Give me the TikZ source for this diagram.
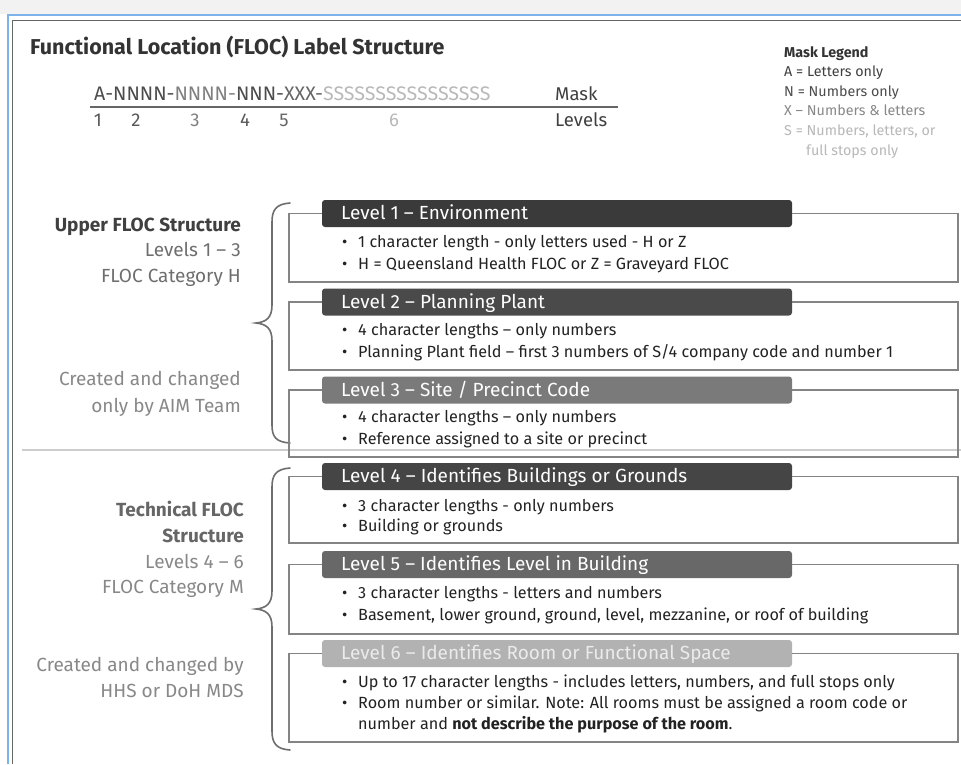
\documentclass[tikz,border=0pt]{standalone}
\usepackage{fontspec}
\setmainfont{Fira Sans}
\begin{document}
\definecolor{hdA}{HTML}{3A3A3A}
\definecolor{hdB}{HTML}{4A4A4A}
\definecolor{hdC}{HTML}{7A7A7A}
\definecolor{hdD}{HTML}{454545}
\definecolor{hdE}{HTML}{686868}
\definecolor{hdF}{HTML}{B2B2B2}
\definecolor{ink}{HTML}{222222}
\definecolor{mid}{HTML}{6E6E6E}
\definecolor{soft}{HTML}{888888}
\definecolor{pale}{HTML}{B8B8B8}
\definecolor{frameblue}{HTML}{7DB3EA}
\newcommand{\bul}{\makebox[16pt][l]{•}}
\tikzset{
  lbl/.style={inner sep=0pt, anchor=base west},
  rlbl/.style={inner sep=0pt, anchor=base east, font=\fontsize{19}{21}\selectfont},
  hdr/.style={rounded corners=3pt, minimum width=470pt, minimum height=27pt, inner sep=0pt},
  hdrtext/.style={inner sep=0pt, anchor=base west, text=white, font=\fontsize{19}{21}\selectfont},
  bullet/.style={inner sep=0pt, anchor=base west, text=ink, font=\fontsize{16.2}{18}\selectfont},
  boxline/.style={draw=mid!85, line width=1.3pt},
  bracestyle/.style={draw=mid, line width=1.6pt, line cap=round}
}
\begin{tikzpicture}[x=1pt,y=-1pt]
\useasboundingbox (0,0) rectangle (961,764);
% page chrome
\fill[white] (0,0) rectangle (961,764);
\fill[black!5] (0,0) rectangle (961,14);
\draw[frameblue, line width=1.5pt] (8,764) -- (8,15) -- (961,15);
\draw[black!60, line width=1.6pt] (12.5,764) -- (12.5,20.5) -- (961,20.5);

% title
\node[lbl, text=black!80, font=\bfseries\fontsize{21.5}{24}\selectfont] (title) at (30,54) {Functional Location (FLOC) Label Structure};

% mask
\node[lbl, font=\fontsize{19.6}{21}\selectfont] (mask) at (94,100)
  {\textcolor{black!70}{A-NNNN-}\textcolor{black!50}{NNNN-}\textcolor{black!70}{NNN-}\textcolor{black!60}{XXX-}\textcolor{pale}{SSSSSSSSSSSSSSSS}};
\coordinate (ruleL) at (90,107);
\coordinate (ruleR) at (618,107);
\draw[black!60, line width=1.2pt] (ruleL) -- (ruleR);
\node[lbl, text=black!75, font=\fontsize{18.5}{20}\selectfont] (masklbl) at (555,100) {Mask};
\node[lbl, text=black!75, font=\fontsize{18.5}{20}\selectfont] (levlbl) at (555,126) {Levels};
\begin{scope}[every node/.style={inner sep=0pt, anchor=base, font=\fontsize{18.5}{20}\selectfont}]
\node[text=black!65] (n1) at (98,126) {1};
\node[text=black!65] (n2) at (136,126) {2};
\node[text=black!50] (n3) at (195,126) {3};
\node[text=black!65] (n4) at (245,126) {4};
\node[text=black!60] (n5) at (284,126) {5};
\node[text=pale] (n6) at (394,126) {6};
\end{scope}

% mask legend
\begin{scope}[every node/.style={lbl, font=\fontsize{14.3}{16}\selectfont}]
\node[text=black!80, font=\bfseries\fontsize{14.3}{16}\selectfont] (lg0) at (784,57) {Mask Legend};
\node[text=black!75] (lg1) at (784,76) {A = Letters only};
\node[text=black!70] (lg2) at (784,96) {N = Numbers only};
\node[text=soft] (lg3) at (784,115) {X – Numbers \& letters};
\node[text=pale] (lg4) at (784,135) {S = Numbers, letters, or};
\node[text=pale] (lg5) at (806,155) {full stops only};
\end{scope}

% left-hand group labels
\node[rlbl, text=black!75, font=\bfseries\fontsize{19}{21}\selectfont] (u1) at (241,231) {Upper FLOC Structure};
\node[rlbl, text=mid] (u2) at (241,256) {Levels 1 – 3};
\node[rlbl, text=mid] (u3) at (241,282) {FLOC Category H};
\node[rlbl, text=soft] (u4) at (241,385) {Created and changed};
\node[rlbl, text=soft] (u5) at (241,412) {only by AIM Team};

\node[rlbl, text=black!60, font=\bfseries\fontsize{19}{21}\selectfont] (t1) at (244,516) {Technical FLOC};
\node[rlbl, text=black!60, font=\bfseries\fontsize{19}{21}\selectfont] (t2) at (244,542) {Structure};
\node[rlbl, text=soft] (t3) at (244,568) {Levels 4 – 6};
\node[rlbl, text=soft] (t4) at (244,593) {FLOC Category M};
\node[rlbl, text=soft] (t5) at (244,671) {Created and changed by};
\node[rlbl, text=soft] (t6) at (244,697) {HHS or DoH MDS};

% separator between the two groups
\draw[black!20, line width=1.5pt] (22,450) -- (961,450);

% braces
\draw[bracestyle] (290,203) .. controls (276,204) and (272,210) .. (272,222)
  -- (272,305) .. controls (272,318) and (266,322) .. (256,323)
  .. controls (266,324) and (272,328) .. (272,341)
  -- (272,425) .. controls (272,437) and (276,442) .. (290,443);
\draw[bracestyle] (290,468) .. controls (276,469) and (272,475) .. (272,487)
  -- (272,591) .. controls (272,604) and (266,608) .. (256,609)
  .. controls (266,610) and (272,614) .. (272,627)
  -- (272,731) .. controls (272,743) and (276,749) .. (290,750);

% level boxes: outline, header bar, bullet text
% Level 1
\node[hdr, fill=hdA] (h1) at (557,213.5) {};
\draw[boxline] (h1.west) -- (289,213.5) -- (289,282) -- (958,282) -- (958,213.5) -- (h1.east);
\node[hdrtext] (h1t) at (341,219) {Level 1 – Environment};
\node[bullet] (b11) at (342,247) {\bul 1 character length - only letters used - H or Z};
\node[bullet] (b12) at (342,269) {\bul H = Queensland Health FLOC or Z = Graveyard FLOC};

% Level 2
\node[hdr, fill=hdB] (h2) at (557,302) {};
\draw[boxline] (h2.west) -- (289,302) -- (289,370) -- (958,370) -- (958,302) -- (h2.east);
\node[hdrtext] (h2t) at (341,308) {Level 2 – Planning Plant};
\node[bullet] (b21) at (342,335) {\bul 4 character lengths – only numbers};
\node[bullet] (b22) at (342,357) {\bul Planning Plant field – first 3 numbers of S/4 company code and number 1};

% Level 3
\node[hdr, fill=hdC] (h3) at (557,390) {};
\draw[boxline] (h3.west) -- (289,390) -- (289,457) -- (958,457) -- (958,390) -- (h3.east);
\node[hdrtext] (h3t) at (341,396) {Level 3 – Site / Precinct Code};
\node[bullet] (b31) at (342,422) {\bul 4 character lengths – only numbers};
\node[bullet] (b32) at (342,444) {\bul Reference assigned to a site or precinct};

% Level 4
\node[hdr, fill=hdD] (h4) at (557,476.5) {};
\draw[boxline] (h4.west) -- (289,476.5) -- (289,543) -- (958,543) -- (958,476.5) -- (h4.east);
\node[hdrtext] (h4t) at (341,482) {Level 4 – Identifies Buildings or Grounds};
\node[bullet] (b41) at (342,511) {\bul 3 character lengths - only numbers};
\node[bullet] (b42) at (342,531) {\bul Building or grounds};

% Level 5
\node[hdr, fill=hdE] (h5) at (557,564.5) {};
\draw[boxline] (h5.west) -- (289,564.5) -- (289,634) -- (958,634) -- (958,564.5) -- (h5.east);
\node[hdrtext] (h5t) at (341,570) {Level 5 – Identifies Level in Building};
\node[bullet] (b51) at (342,598) {\bul 3 character lengths - letters and numbers};
\node[bullet] (b52) at (342,620) {\bul Basement, lower ground, ground, level, mezzanine, or roof of building};

% Level 6
\node[hdr, fill=hdF] (h6) at (557,653.5) {};
\draw[boxline] (h6.west) -- (289,653.5) -- (289,742) -- (958,742) -- (958,653.5) -- (h6.east);
\node[hdrtext, text=white!92!black] (h6t) at (341,659) {Level 6 – Identifies Room or Functional Space};
\node[bullet] (b61) at (342,687) {\bul Up to 17 character lengths - includes letters, numbers, and full stops only};
\node[bullet] (b62) at (342,708) {\bul Room number or similar. Note: All rooms must be assigned a room code or};
\node[bullet] (b63) at (358,729) {number and \textbf{not describe the purpose of the room}.};
\end{tikzpicture}
\end{document}
